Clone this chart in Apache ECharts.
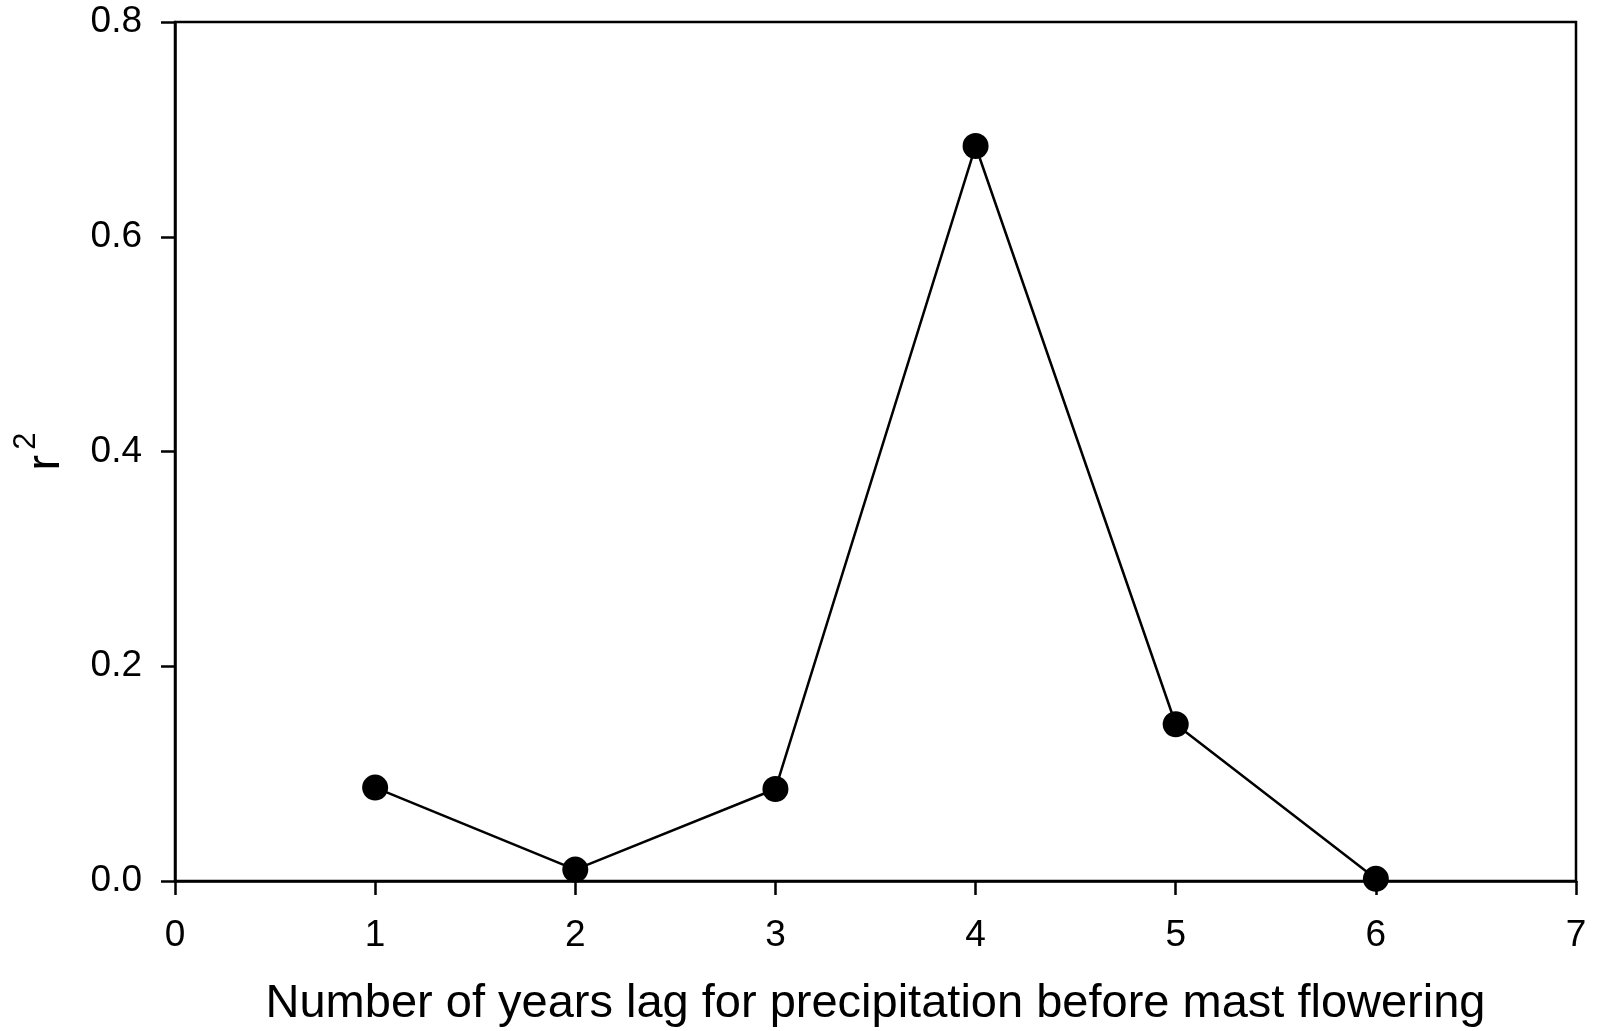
<!DOCTYPE html>
<html>
<head>
<meta charset="utf-8">
<script src="https://cdn.jsdelivr.net/npm/echarts@6/dist/echarts.min.js"></script>
<style>
html,body{margin:0;padding:0;background:#fff;}
#c{width:1598px;height:1031px;}
</style>
</head>
<body>
<div id="c"></div>
<script>
const lagYears = [1, 2, 3, 4, 5, 6];
const rSquared = [0.087, 0.0106, 0.0857, 0.6845, 0.146, 0.002];
const xTitle = 'Number of years lag for precipitation before mast flowering';

const FONT = '"Liberation Sans", Arial, sans-serif';
const chart = echarts.init(document.getElementById('c'), null, {renderer: 'canvas'});
chart.setOption({
  backgroundColor: '#fff',
  animation: false,
  grid: {left: 175, right: 22, top: 22, bottom: 150, containLabel: false, outerBoundsMode: 'none',
         show: true, borderColor: '#000', borderWidth: 2.5, backgroundColor: 'transparent'},
  xAxis: {
    type: 'value', min: 0, max: 7, interval: 1,
    axisLine: {show: true, onZero: false, lineStyle: {color: '#000', width: 2.5}},
    axisTick: {show: true, inside: false, length: 14, lineStyle: {color: '#000', width: 2.5}},
    axisLabel: {color: '#000', fontFamily: FONT, fontSize: 37, margin: 36},
    splitLine: {show: false},
    name: xTitle, nameLocation: 'middle', nameGap: 100,
    nameTextStyle: {color: '#000', fontFamily: FONT, fontSize: 47}
  },
  yAxis: {
    type: 'value', min: 0, max: 0.8, interval: 0.2,
    axisLine: {show: true, onZero: false, lineStyle: {color: '#000', width: 2.5}},
    axisTick: {show: true, inside: false, length: 14, lineStyle: {color: '#000', width: 2.5}},
    axisLabel: {color: '#000', fontFamily: FONT, fontSize: 37, margin: 33, formatter: v => v.toFixed(1)},
    splitLine: {show: false},
    name: '{r|r}{s|2}', nameLocation: 'middle', nameGap: 93, nameRotate: 90,
    nameTextStyle: {
      color: '#000', fontFamily: FONT, fontSize: 47,
      rich: {
        r: {fontFamily: FONT, fontSize: 47, color: '#000'},
        s: {fontFamily: FONT, fontSize: 31, color: '#000', padding: [0, 0, 40, 5]}
      }
    }
  },
  series: [{
    type: 'line',
    data: lagYears.map((x, i) => [x, rSquared[i]]),
    symbol: 'circle', symbolSize: 26,
    clip: false,
    lineStyle: {color: '#000', width: 2.5},
    itemStyle: {color: '#000'}
  }]
});
</script>
</body>
</html>
